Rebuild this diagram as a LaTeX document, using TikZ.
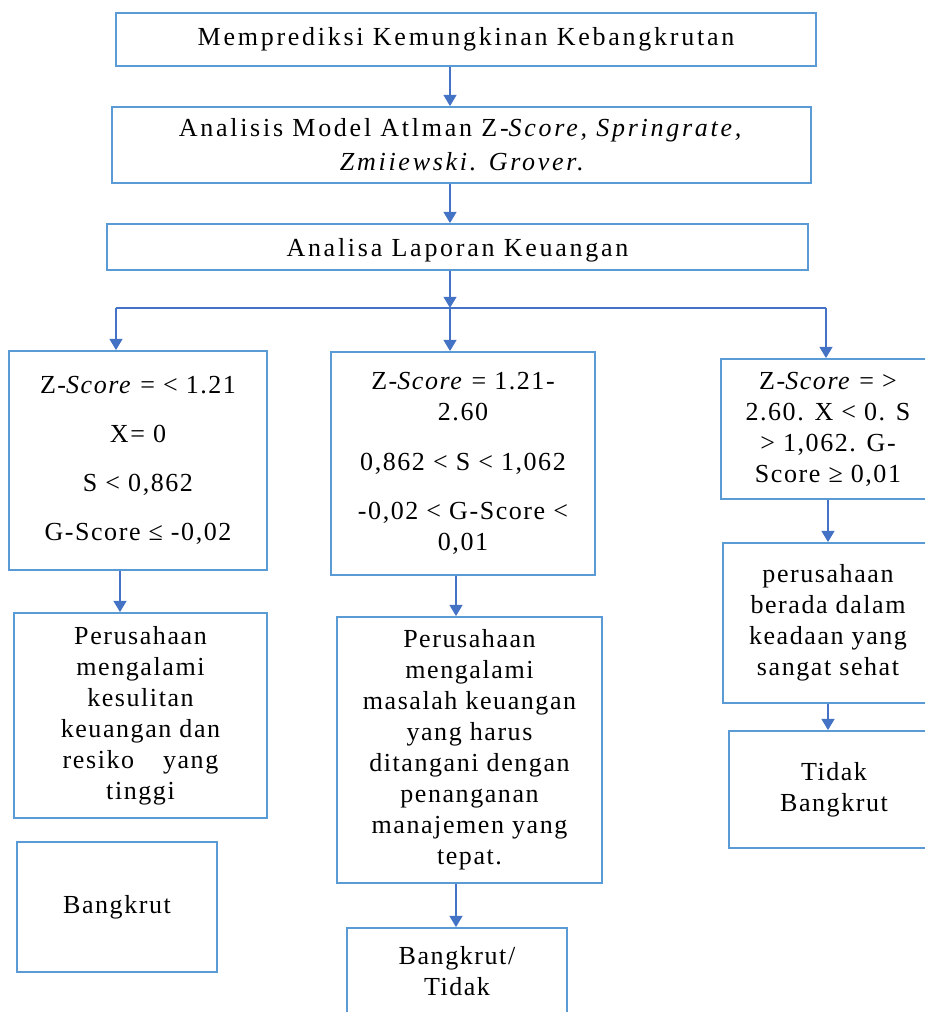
\documentclass[tikz,border=0pt]{standalone}
\usepackage{fontspec}
\setmainfont{Liberation Serif}
\newfontfamily\boxfont{Liberation Serif}[LetterSpace=6]
\newfontfamily\headfont{Liberation Serif}[LetterSpace=10.5]
\usetikzlibrary{arrows.meta}
\definecolor{frameblue}{RGB}{91,155,213}
\definecolor{arrowblue}{RGB}{68,114,196}

\begin{document}
\begin{tikzpicture}[
      x=0.025cm, y=-0.025cm,
      box/.style={draw=frameblue, line width=1.2pt, align=center, inner sep=0pt,
        font=\boxfont\fontsize{18.5}{22}\selectfont},
      head/.style={box, font=\headfont\fontsize{18.5}{24}\selectfont},
      wire/.style={draw=arrowblue, line width=1.8pt},
      arr/.style={wire, -{Triangle[width=9pt,length=8pt]}},
    ]
    \useasboundingbox (0,0) rectangle (925,1012);
    \clip (0,0) rectangle (925,1012);
    \node[head, minimum width=17.5cm, minimum height=1.325cm] (pred) at (466,39.5)
      {Memprediksi Kemungkinan Kebangkrutan};
    \node[head, minimum width=17.475cm, minimum height=1.9cm] (model) at (461.5,145)
      {Analisis Model Atlman Z-\textit{Score, Springrate,}\\\textit{Zmiiewski. Grover}.};
    \node[head, minimum width=17.525cm, minimum height=1.15cm, text depth=0pt] (lap) at (457.5,247)
      {Analisa Laporan Keuangan};
    \node[box, minimum width=6.45cm, minimum height=5.475cm] (L1) at (138,460.5)
      {Z-\textit{Score} = < 1.21\\[13pt] X= 0\\[13pt] S < 0,862\\[13pt] G-Score ≤ -0,02};
    \node[box, minimum width=6.6cm, minimum height=5.575cm] (M1) at (463,463.5)
      {Z-\textit{Score} = 1.21-\\2.60\\[13pt] 0,862 < S < 1,062\\[13pt] -0,02 < G-Score <\\0,01};
    \node[box, minimum width=5.35cm, minimum height=3.5cm] (R1) at (828,429)
      {Z-\textit{Score} = >\\2.60. X < 0. S\\> 1,062. G-\\Score ≥ 0,01};
    \node[box, minimum width=6.325cm, minimum height=5.125cm] (L2) at (140.5,715.5)
      {Perusahaan\\mengalami\\kesulitan\\keuangan dan\\resiko\hspace{0.8em} yang\\tinggi};
    \node[box, minimum width=6.625cm, minimum height=6.65cm] (M2) at (469.5,750)
      {Perusahaan\\mengalami\\masalah keuangan\\yang harus\\ditangani dengan\\penanganan\\manajemen yang\\tepat.};
    \node[box, minimum width=5.25cm, minimum height=4cm] (R2) at (828,623)
      {perusahaan\\berada dalam\\keadaan yang\\sangat sehat};
    \node[box, minimum width=5cm, minimum height=3.25cm] (L3) at (117,907) {Bangkrut};
    \node[box, minimum width=5.5cm, minimum height=2.175cm] (M3) at (457,971.5) {Bangkrut/\\Tidak};
    \node[box, minimum width=5.25cm, minimum height=2.925cm] (R3) at (834,789.5) {Tidak\\Bangkrut};
    \coordinate (split) at (450,308);
    \coordinate (splitL) at (116,308);
    \coordinate (splitR) at (826,308);
    \coordinate (colL) at (120,590);
    \coordinate (colM) at (456,600);
    \draw[arr] (pred.south -| split) -- (model.north -| split);
    \draw[arr] (model.south -| split) -- (lap.north -| split);
    \draw[arr] (lap.south -| split) -- (split);
    \draw[wire] (splitL) -- (splitR);
    \draw[arr] (splitL) -- (splitL |- L1.north);
    \draw[arr] (split) -- (split |- M1.north);
    \draw[arr] (splitR) -- (splitR |- R1.north);
    \draw[arr] (L1.south -| colL) -- (L2.north -| colL);
    \draw[arr] (M1.south -| colM) -- (M2.north -| colM);
    \draw[arr] (M2.south -| colM) -- (M3.north -| colM);
    \draw[arr] (R1.south) -- (R2.north);
    \draw[arr] (R2.south) -- (R2.south |- R3.north);
  \end{tikzpicture}
\end{document}
